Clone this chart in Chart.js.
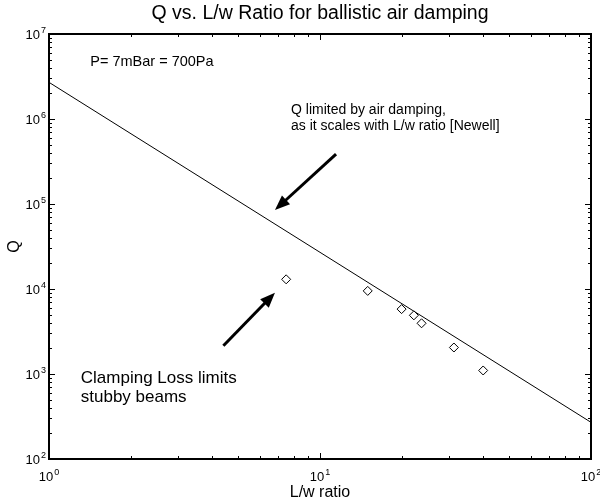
<!DOCTYPE html>
<html>
<head>
<meta charset="utf-8">
<script src="https://cdn.jsdelivr.net/npm/chart.js@4.4.0/dist/chart.umd.min.js"></script>
<style>
    html, body { margin: 0; padding: 0; background: #fff; }
    #wrap { width: 600px; height: 502px; position: relative; }
</style>
</head>
<body>
<div id="wrap"><canvas id="qChart"></canvas></div>
<script>
// Measured beams (L/w ratio vs Q)
const lwRatio = [7.5, 15, 20, 22.2, 23.7, 31.2, 40];
const qValues = [13000, 9500, 5800, 4900, 3950, 2050, 1100];

// Air damping scaling line [Newell]
const fitRatio = [1, 100];
const fitQ = [2.7e6, 270];

// Axis ranges
const xRange = [1, 100];
const yRange = [1e2, 1e7];

const FONT = "'Liberation Sans', Arial, Helvetica, sans-serif";

// Notes and arrows, anchored in data coordinates
const notes = [
    { lines: ['P= 7mBar = 700Pa'], at: [1.42, 4.69e6], size: 14.5, gap: 16 },
    { lines: ['Q limited by air damping,', 'as it scales with L/w ratio [Newell]'], at: [7.82, 1.28e6], size: 14, gap: 16 },
    { lines: ['Clamping Loss limits', 'stubby beams'], at: [1.31, 897], size: 17, gap: 19 }
];
const arrows = [
    { from: [11.46, 3.87e5], to: [6.82, 8.49e4] },
    { from: [4.40, 2150], to: [6.82, 9040] }
];

// 1..9 x 10^n ticks for a log axis
function decadeTicks(min, max) {
    const out = [];
    for (let e = Math.floor(Math.log10(min)); e <= Math.floor(Math.log10(max)); e++) {
        for (let k = 1; k < 10; k++) {
            const v = k * Math.pow(10, e);
            if (v >= min * 0.9999 && v <= max * 1.0001) {
                out.push({ value: v, major: k === 1 });
            }
        }
    }
    return out;
}

function powerLabel(ctx, exp, x, y, align) {
    ctx.font = '13px ' + FONT;
    const wBase = ctx.measureText('10').width;
    ctx.font = '9px ' + FONT;
    const wExp = ctx.measureText(String(exp)).width;
    const total = wBase + wExp + 1;
    let left = align === 'center' ? x - total / 2 : x - total;
    ctx.textAlign = 'left';
    ctx.textBaseline = 'alphabetic';
    ctx.font = '13px ' + FONT;
    ctx.fillText('10', left, y);
    ctx.font = '9px ' + FONT;
    ctx.fillText(String(exp), left + wBase + 1, y - 6);
}

const framePlugin = {
    id: 'framePlugin',
    afterDraw(chart) {
        const { ctx, chartArea: a, scales: { x, y } } = chart;
        ctx.save();
        ctx.strokeStyle = '#000';
        ctx.fillStyle = '#000';

        // inward ticks on all four sides
        ctx.lineWidth = 1;
        ctx.beginPath();
        x.ticks.forEach(t => {
            const px = Math.round(x.getPixelForValue(t.value)) + 0.5;
            const len = t.major ? 6 : 3;
            ctx.moveTo(px, a.bottom); ctx.lineTo(px, a.bottom - len);
            ctx.moveTo(px, a.top); ctx.lineTo(px, a.top + len);
        });
        y.ticks.forEach(t => {
            const py = Math.round(y.getPixelForValue(t.value)) + 0.5;
            const len = t.major ? 6 : 3;
            ctx.moveTo(a.left, py); ctx.lineTo(a.left + len, py);
            ctx.moveTo(a.right, py); ctx.lineTo(a.right - len, py);
        });
        ctx.stroke();

        // frame
        ctx.lineWidth = 2;
        ctx.strokeRect(a.left, a.top, a.right - a.left, a.bottom - a.top);

        // tick labels
        x.ticks.filter(t => t.major).forEach(t => {
            powerLabel(ctx, Math.round(Math.log10(t.value)), x.getPixelForValue(t.value), a.bottom + 22, 'center');
        });
        y.ticks.filter(t => t.major).forEach(t => {
            powerLabel(ctx, Math.round(Math.log10(t.value)), a.left - 3, y.getPixelForValue(t.value) + 5, 'right');
        });

        // titles
        ctx.textBaseline = 'middle';
        ctx.textAlign = 'center';
        ctx.font = '19.5px ' + FONT;
        ctx.fillText('Q vs. L/w Ratio for ballistic air damping', (a.left + a.right) / 2, 14);
        ctx.font = '16px ' + FONT;
        ctx.fillText('L/w ratio', (a.left + a.right) / 2, 493);
        ctx.save();
        ctx.translate(15, (a.top + a.bottom) / 2);
        ctx.rotate(-Math.PI / 2);
        ctx.fillText('Q', 0, 0);
        ctx.restore();

        // notes
        ctx.textAlign = 'left';
        notes.forEach(n => {
            ctx.font = n.size + 'px ' + FONT;
            const px = x.getPixelForValue(n.at[0]);
            const py = y.getPixelForValue(n.at[1]);
            n.lines.forEach((line, i) => ctx.fillText(line, px, py + i * n.gap));
        });

        // arrows
        arrows.forEach(ar => {
            const x0 = x.getPixelForValue(ar.from[0]), y0 = y.getPixelForValue(ar.from[1]);
            const x1 = x.getPixelForValue(ar.to[0]), y1 = y.getPixelForValue(ar.to[1]);
            const ang = Math.atan2(y1 - y0, x1 - x0);
            const headLen = 15, headW = 6;
            ctx.lineWidth = 3;
            ctx.beginPath();
            ctx.moveTo(x0, y0);
            ctx.lineTo(x1 - Math.cos(ang) * (headLen - 2), y1 - Math.sin(ang) * (headLen - 2));
            ctx.stroke();
            ctx.beginPath();
            ctx.moveTo(x1, y1);
            ctx.lineTo(x1 - Math.cos(ang) * headLen + Math.sin(ang) * headW, y1 - Math.sin(ang) * headLen - Math.cos(ang) * headW);
            ctx.lineTo(x1 - Math.cos(ang) * headLen - Math.sin(ang) * headW, y1 - Math.sin(ang) * headLen + Math.cos(ang) * headW);
            ctx.closePath();
            ctx.fill();
        });

        ctx.restore();
    }
};

const ctx = document.getElementById('qChart');

new Chart(ctx, {
    type: 'scatter',
    data: {
        datasets: [{
            label: 'Measured',
            data: lwRatio.map((v, i) => ({ x: v, y: qValues[i] })),
            pointStyle: 'rectRot',
            pointRadius: 4.5,
            pointBackgroundColor: '#fff',
            pointBorderColor: '#000',
            pointBorderWidth: 1,
            showLine: false
        }, {
            label: 'Air damping',
            data: fitRatio.map((v, i) => ({ x: v, y: fitQ[i] })),
            showLine: true,
            borderColor: '#000',
            borderWidth: 1,
            pointRadius: 0,
            fill: false
        }]
    },
    plugins: [framePlugin],
    options: {
        responsive: true,
        maintainAspectRatio: false,
        animation: false,
        layout: {
            padding: { left: 49, top: 34, right: 9, bottom: 43 }
        },
        plugins: {
            legend: { display: false },
            tooltip: { enabled: false },
            title: { display: false }
        },
        scales: {
            x: {
                type: 'logarithmic',
                min: xRange[0],
                max: xRange[1],
                afterBuildTicks: scale => { scale.ticks = decadeTicks(scale.min, scale.max); },
                ticks: { display: false },
                grid: { display: false, drawTicks: false },
                border: { display: false }
            },
            y: {
                type: 'logarithmic',
                min: yRange[0],
                max: yRange[1],
                afterBuildTicks: scale => { scale.ticks = decadeTicks(scale.min, scale.max); },
                ticks: { display: false },
                grid: { display: false, drawTicks: false },
                border: { display: false }
            }
        }
    }
});
</script>
</body>
</html>
